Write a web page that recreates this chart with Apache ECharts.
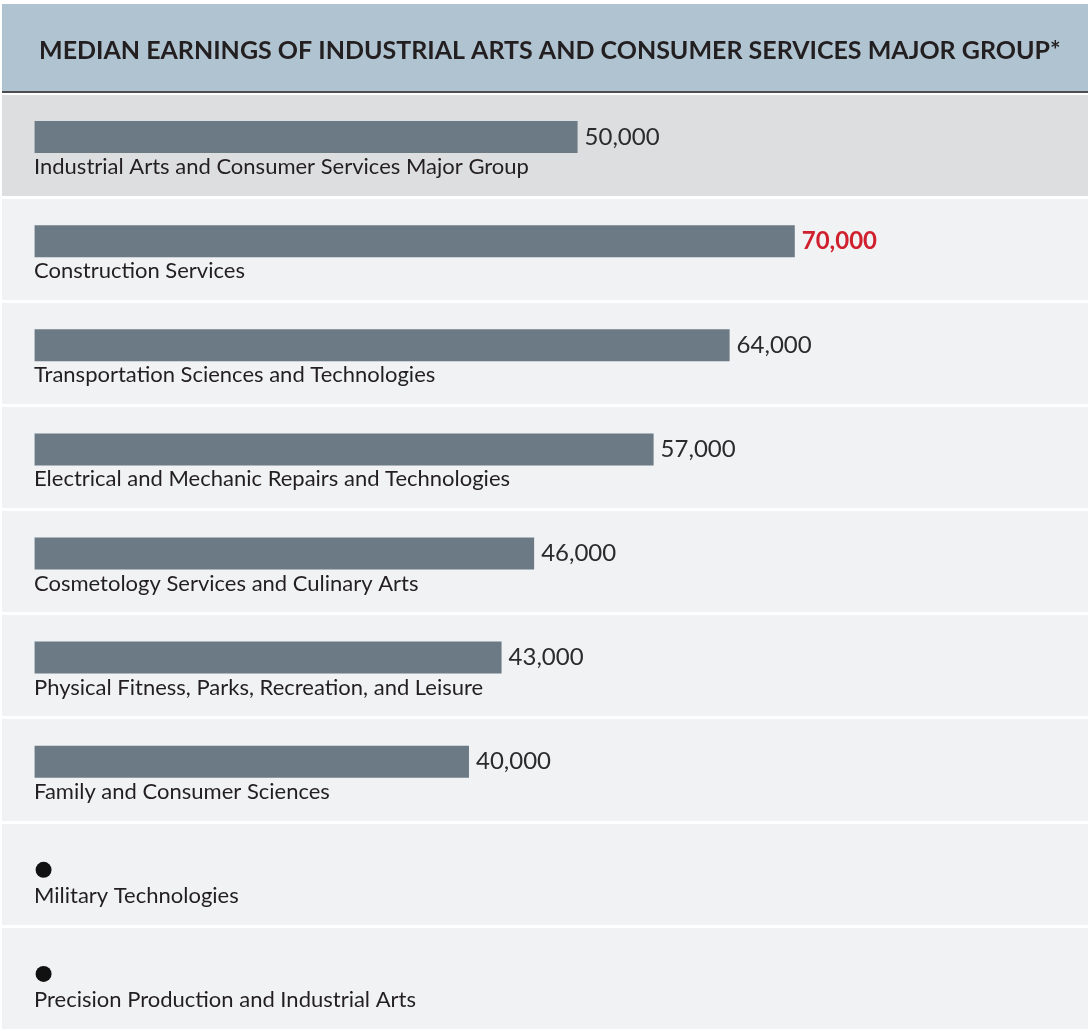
<!DOCTYPE html>
<html>
<head>
<meta charset="utf-8">
<script src="https://cdn.jsdelivr.net/npm/echarts@6/dist/echarts.min.js"></script>
<style>
  html, body { margin: 0; padding: 0; background: #fff; }
  #chart { width: 1090px; height: 1031px; }
</style>
</head>
<body>
<div id="chart"></div>
<script>
const titleText = 'MEDIAN EARNINGS OF INDUSTRIAL ARTS AND CONSUMER SERVICES MAJOR GROUP*'

const categories = [
  'Industrial Arts and Consumer Services Major Group',
  'Construction Services',
  'Transportation Sciences and Technologies',
  'Electrical and Mechanic Repairs and Technologies',
  'Cosmetology Services and Culinary Arts',
  'Physical Fitness, Parks, Recreation, and Leisure',
  'Family and Consumer Sciences',
  'Military Technologies',
  'Precision Production and Industrial Arts',
]

// null = no data reported (drawn as a dot)
const earnings = [50000, 70000, 64000, 57000, 46000, 43000, 40000, null, null]

const rowColors = ['#dddee0', '#f1f2f4', '#f1f2f4', '#f1f2f4', '#f1f2f4', '#f1f2f4', '#f1f2f4', '#f1f2f4', '#f1f2f4']

const maxValue = Math.max(...earnings.filter(v => v != null))
const fmt = v => v.toLocaleString('en-US')

const chart = echarts.init(document.getElementById('chart'))
chart.setOption({
  animation: false,
  textStyle: { fontFamily: 'Lato, sans-serif' },
  title: {
    text: titleText,
    left: 34,
    top: 33,
    textStyle: { fontFamily: 'Lato', fontWeight: 'bold', fontSize: 25, color: '#231f20' },
  },
  graphic: [
    { type: 'rect', z: -10, shape: { x: 2, y: 4, width: 1086, height: 87 }, style: { fill: '#b0c3d1' } },
    { type: 'rect', z: 100, shape: { x: 2, y: 91, width: 1086, height: 2 }, style: { fill: '#4d4d4f' } },
  ],
  grid: { left: 2, right: 2, top: 93, bottom: 1, containLabel: false },
  xAxis: {
    type: 'value',
    min: -3000,
    max: 97000,
    show: false,
  },
  yAxis: {
    type: 'category',
    inverse: true,
    data: categories,
    axisLine: { show: false },
    axisTick: { show: false },
    axisLabel: {
      inside: true,
      margin: 32,
      align: 'left',
      fontSize: 22,
      lineHeight: 44,
      color: '#231f20',
      formatter: v => '\n' + v,
    },
    splitArea: { show: true, areaStyle: { color: rowColors } },
    splitLine: { show: true, lineStyle: { color: '#ffffff', width: 3 } },
  },
  series: [
    {
      name: 'earnings',
      type: 'bar',
      barWidth: 32,
      barGap: '0%',
      itemStyle: { color: '#6b7a84' },
      label: {
        show: true,
        position: 'right',
        distance: 7,
        fontSize: 24,
        color: '#2b2b2b',
        formatter: p => fmt(p.value),
      },
      data: earnings.map(v => {
        if (v == null) return '-'
        if (v === maxValue) {
          return { value: v, label: { color: '#d0202e', fontWeight: 'bold' } }
        }
        return v
      }),
    },
    {
      name: 'spacer',
      type: 'bar',
      barWidth: 16,
      itemStyle: { color: 'transparent' },
      data: earnings.map(() => '-'),
    },
    {
      name: 'missing',
      type: 'scatter',
      symbol: 'circle',
      symbolSize: 16,
      symbolOffset: [9, -4],
      itemStyle: { color: '#111111', opacity: 1 },
      data: earnings.map(v => (v == null ? 0 : '-')),
    },
  ],
})
</script>
</body>
</html>
